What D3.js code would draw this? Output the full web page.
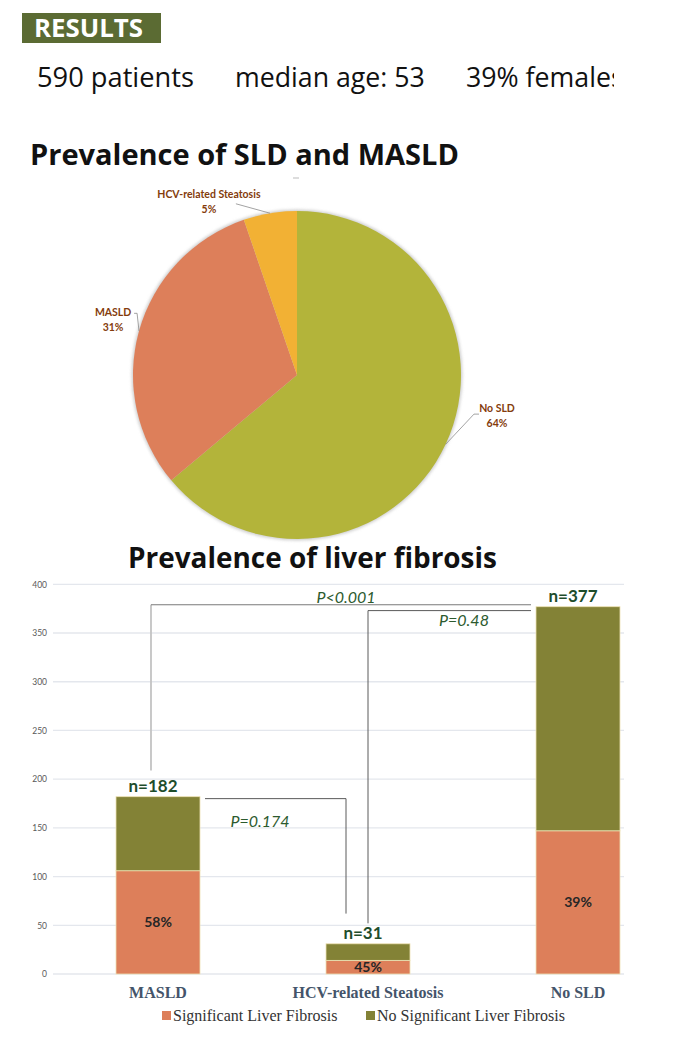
<!DOCTYPE html>
<html><head><meta charset="utf-8">
<script src="https://cdn.jsdelivr.net/npm/d3@7"></script>
<style>
body{margin:0;background:#fff;}
svg{display:block;}
</style></head>
<body>
<svg id="chart" width="673" height="1053"></svg>
<script>
// ---------- data ----------
const headerStats = ["590 patients", "median age: 53", "39% females"];
const pieCategories = ["No SLD", "MASLD", "HCV-related Steatosis"];
const pieCounts = [377, 182, 31];
const piePercentLabels = ["64%", "31%", "5%"];
const barCategories = ["MASLD", "HCV-related Steatosis", "No SLD"];
const significantFibrosis = [106, 14, 147];
const noSignificantFibrosis = [76, 17, 230];
const totalLabels = ["n=182", "n=31", "n=377"];
const fibrosisPctLabels = ["58%", "45%", "39%"];
const yTicks = [0, 50, 100, 150, 200, 250, 300, 350, 400];
const seriesNames = ["Significant Liver Fibrosis", "No Significant Liver Fibrosis"];
const comparisonLabels = ["P<0.001", "P=0.48", "P=0.174"];
const comparisonLevel = [379, 373, 180];
const comparisonFoot = [209, 52, 62];

// ---------- styles ----------
const SANS = "Lato, 'Open Sans', sans-serif";
const OPEN = "'Open Sans', Lato, sans-serif";
const SERIF = "'Liberation Serif', 'DejaVu Serif', serif";
const pieColors = ["#b3b43a", "#dd7f5a", "#f2b134"];
const barColors = ["#dd7f5a", "#838236"];
const svg = d3.select("#chart");
const defs = svg.append("defs");

// fit text to a target width by adjusting font size
function fitWidth(sel, w) {
  const node = sel.node();
  const fs = parseFloat(sel.attr("font-size"));
  const cur = node.getComputedTextLength();
  if (cur > 0) sel.attr("font-size", (fs * w / cur).toFixed(2));
  return sel;
}

// ---------- header ----------
svg.append("rect").attr("x", 22).attr("y", 13).attr("width", 139).attr("height", 30).attr("fill", "#5b6b33");
fitWidth(svg.append("text").attr("x", 34).attr("y", 37).text("RESULTS")
  .attr("font-family", OPEN).attr("font-weight", 700).attr("font-size", 23).attr("fill", "#fff"), 109);

const clip = defs.append("clipPath").attr("id", "hdrclip");
clip.append("rect").attr("x", 0).attr("y", 50).attr("width", 614).attr("height", 60);
const hdrX = [37, 235, 466];
const hdrW = [157, 190, null];
svg.append("g").attr("clip-path", "url(#hdrclip)").selectAll("text").data(headerStats).join("text")
  .attr("x", (d, i) => hdrX[i]).attr("y", 87).text(d => d)
  .attr("font-family", OPEN).attr("font-size", 25).attr("fill", "#111")
  .each(function (d, i) { if (hdrW[i]) fitWidth(d3.select(this), hdrW[i]); });
{
  const t = svg.selectAll("g[clip-path] text").nodes();
  d3.select(t[2]).attr("font-size", d3.select(t[1]).attr("font-size"));
}

// ---------- titles ----------
fitWidth(svg.append("text").attr("x", 30).attr("y", 165).text("Prevalence of SLD and MASLD")
  .attr("font-family", OPEN).attr("font-weight", 700).attr("font-size", 27).attr("fill", "#111"), 429);
fitWidth(svg.append("text").attr("x", 128).attr("y", 568).text("Prevalence of liver fibrosis")
  .attr("font-family", OPEN).attr("font-weight", 700).attr("font-size", 27).attr("fill", "#111"), 369);
svg.append("line").attr("x1", 293).attr("x2", 299).attr("y1", 178).attr("y2", 178).attr("stroke", "#bbb");

// ---------- pie ----------
const cx = 297, cy = 375, R = 164;
const f = defs.append("filter").attr("id", "blur").attr("x", "-10%").attr("y", "-10%").attr("width", "120%").attr("height", "120%");
f.append("feGaussianBlur").attr("stdDeviation", 1.6);
const pg = svg.append("g").attr("transform", `translate(${cx},${cy})`);
pg.append("circle").attr("r", R + 1.5).attr("fill", "#cfcfcf").attr("filter", "url(#blur)");
const pie = d3.pie().sort(null).value(d => d)(pieCounts);
const arc = d3.arc().innerRadius(0).outerRadius(R);
pg.selectAll("path.slice").data(pie).join("path").attr("class", "slice")
  .attr("d", arc).attr("fill", (d, i) => pieColors[i]);

const polar = (a, r) => [Math.sin(a) * r, -Math.cos(a) * r];
const labelNudge = [-13.4, 1, -17.5];   // degrees
const labelRad = [1.245, 1.17, 1.185];
pie.forEach((d, i) => {
  const mid = (d.startAngle + d.endAngle) / 2;
  const [lx, ly] = polar(mid + labelNudge[i] * Math.PI / 180, R * labelRad[i]);
  const [ex, ey] = polar(mid, R);
  let pts;
  if (i === 0) pts = [[ex, ey], [lx - 23, ly - 2], [lx - 18, ly - 2]];
  else if (i === 1) pts = [[lx + 21, ly - 7], [lx + 24, ly - 7], [ex, ey]];
  else pts = [[lx + 27, ly + 2], [ex, ey]];
  pg.append("polyline").attr("points", pts.map(p => p.join(",")).join(" "))
    .attr("fill", "none").attr("stroke", "#8c8c8c").attr("stroke-width", 0.8);
  const t = pg.append("text").attr("text-anchor", "middle")
    .attr("font-family", SANS).attr("font-weight", 700).attr("font-size", 10.5).attr("fill", "#843c0c");
  t.append("tspan").attr("x", lx).attr("y", ly - 4).text(pieCategories[i]);
  t.append("tspan").attr("x", lx).attr("y", ly + 11).text(piePercentLabels[i]);
});

// ---------- bar chart ----------
const gridX0 = 53, gridX1 = 624;
const y = d3.scaleLinear().domain([0, 400]).range([974, 584.3]);
const x = d3.scaleBand().domain(barCategories).range([53, 683]).paddingInner(0.6).paddingOuter(0.3);

const bg = svg.append("g");
bg.selectAll("line.grid").data(yTicks).join("line").attr("class", "grid")
  .attr("x1", gridX0).attr("x2", gridX1).attr("y1", d => y(d)).attr("y2", d => y(d))
  .attr("stroke", "#e4e7ed").attr("stroke-width", 1.3);
const yAxis = d3.axisLeft(y).tickValues(yTicks).tickSize(0).tickPadding(0);
const ya = bg.append("g").attr("transform", "translate(47,0)").call(yAxis);
ya.select(".domain").remove();
ya.selectAll("text").attr("font-family", SANS).attr("font-size", 8.5).attr("fill", "#595959");

const stack = d3.stack().keys([0, 1])(barCategories.map((c, i) => [significantFibrosis[i], noSignificantFibrosis[i]]));
stack.forEach((layer, k) => {
  bg.selectAll("rect.s" + k).data(layer).join("rect").attr("class", "s" + k)
    .attr("x", (d, i) => x(barCategories[i])).attr("width", x.bandwidth())
    .attr("y", d => y(d[1])).attr("height", d => y(d[0]) - y(d[1]))
    .attr("fill", barColors[k]).attr("stroke", "#eee2b4").attr("stroke-width", 0.8);
});

// percent labels in lower segment
bg.selectAll("text.pct").data(fibrosisPctLabels).join("text").attr("class", "pct")
  .attr("x", (d, i) => x(barCategories[i]) + x.bandwidth() / 2)
  .attr("y", (d, i) => y(significantFibrosis[i] / 2) + 5)
  .attr("text-anchor", "middle").text(d => d)
  .attr("font-family", SANS).attr("font-weight", 700).attr("font-size", 14).attr("fill", "#262626");

// totals
bg.selectAll("text.tot").data(totalLabels).join("text").attr("class", "tot")
  .attr("x", (d, i) => x(barCategories[i]) + x.bandwidth() / 2 - 5)
  .attr("y", (d, i) => y(significantFibrosis[i] + noSignificantFibrosis[i]) - 5)
  .attr("text-anchor", "middle").text(d => d)
  .attr("font-family", SANS).attr("font-weight", 700).attr("font-size", 17).attr("fill", "#1e4d2b");

// category labels
bg.selectAll("text.cat").data(barCategories).join("text").attr("class", "cat")
  .attr("x", d => x(d) + x.bandwidth() / 2).attr("y", 998)
  .attr("text-anchor", "middle").text(d => d)
  .attr("font-family", SERIF).attr("font-weight", 700).attr("font-size", 16).attr("fill", "#44546a");

// comparison brackets
const cMid = i => x(barCategories[i]) + x.bandwidth() / 2;
const brackets = [
  { x1: cMid(0) - 7, x2: x(barCategories[2]) - 5, tx: 346, ty: 603, footX: cMid(0) - 7 },
  { x1: cMid(1), x2: x(barCategories[2]) - 5, tx: 464, ty: 626, footX: cMid(1) },
  { x1: x(barCategories[0]) + x.bandwidth() + 5, x2: cMid(1) - 22, tx: 260, ty: 827, footX: cMid(1) - 22 }
];
brackets.forEach((b, i) => {
  const ly = y(comparisonLevel[i]);
  if (i === 0) {
    bg.append("line").attr("x1", b.footX).attr("x2", b.footX).attr("y1", ly).attr("y2", y(comparisonFoot[i]))
      .attr("stroke", "#c3c3c3").attr("stroke-width", 1.8);
    bg.append("line").attr("x1", b.x1).attr("x2", b.x2).attr("y1", ly).attr("y2", ly)
      .attr("stroke", "#7a7a7a").attr("stroke-width", 1);
  } else {
    bg.append("polyline").attr("points", `${b.x1 === b.footX ? b.x2 : b.x1},${ly} ${b.footX},${ly} ${b.footX},${y(comparisonFoot[i])}`)
      .attr("fill", "none").attr("stroke", "#5a5a5a").attr("stroke-width", 1);
  }
  bg.append("text").attr("x", b.tx).attr("y", b.ty).attr("text-anchor", "middle").text(comparisonLabels[i])
    .attr("font-family", SANS).attr("font-style", "italic").attr("font-size", 16).attr("fill", "#2c5a2e");
});

// legend
const legX = [162, 366];
const lg = svg.append("g");
seriesNames.forEach((s, i) => {
  lg.append("rect").attr("x", legX[i]).attr("y", 1011).attr("width", 9).attr("height", 9).attr("fill", barColors[i]);
  lg.append("text").attr("x", legX[i] + 11).attr("y", 1021).text(s)
    .attr("font-family", SERIF).attr("font-size", 16).attr("fill", "#333");
});
</script>
</body></html>
